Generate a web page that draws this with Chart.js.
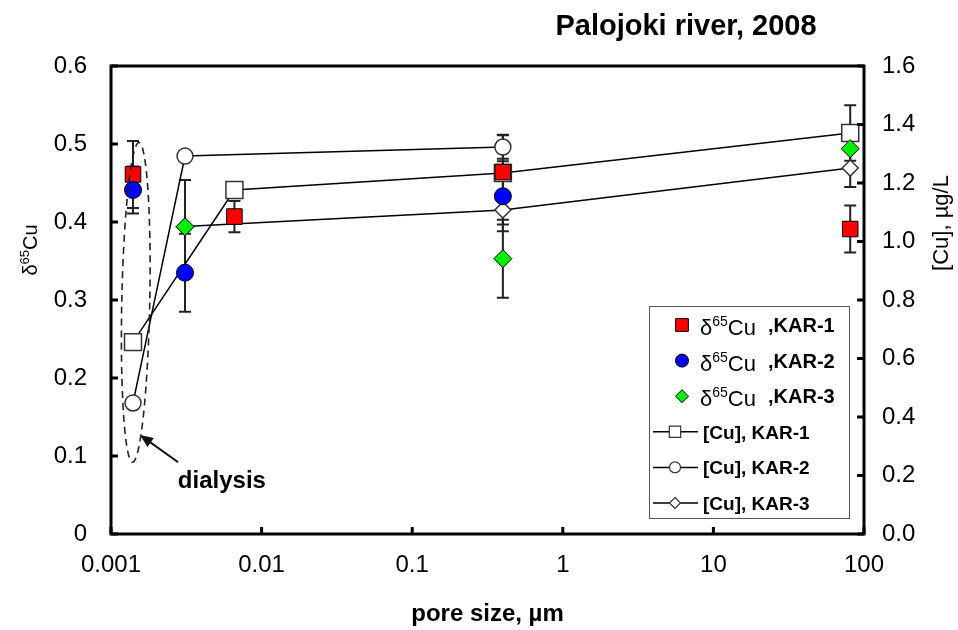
<!DOCTYPE html>
<html><head><meta charset="utf-8">
<script src="https://cdn.jsdelivr.net/npm/chart.js@4.4.1/dist/chart.umd.min.js"></script>
<style>html,body{margin:0;padding:0;background:#fff;overflow:hidden}canvas{display:block}</style>
</head><body>
<canvas id="c" width="958" height="630" style="width:958px;height:630px"></canvas>
<script>
const FONT = '"Liberation Sans", Arial, sans-serif';

// ---- tick labels ----
const xTicks = [0.001, 0.01, 0.1, 1, 10, 100];
const xTickLabels = ['0.001', '0.01', '0.1', '1', '10', '100'];
const yLeftTicks = [0, 0.1, 0.2, 0.3, 0.4, 0.5, 0.6];
const yLeftTickLabels = ['0', '0.1', '0.2', '0.3', '0.4', '0.5', '0.6'];
const yRightTicks = [0, 0.2, 0.4, 0.6, 0.8, 1.0, 1.2, 1.4, 1.6];
const yRightTickLabels = ['0.0', '0.2', '0.4', '0.6', '0.8', '1.0', '1.2', '1.4', '1.6'];

// ---- delta65Cu (left axis), with error bars ----
const d65Kar1X = [0.0014, 0.0066, 0.40, 81];
const d65Kar1Y = [0.461, 0.407, 0.464, 0.391];
const d65Kar1Err = [0.043, 0.02, 0.048, 0.03];

const d65Kar2X = [0.0014, 0.0031, 0.40];
const d65Kar2Y = [0.441, 0.335, 0.433];
const d65Kar2Err = [0.03, 0.05, 0.045];

const d65Kar3X = [0.0031, 0.40, 81];
const d65Kar3Y = [0.394, 0.353, 0.494];
const d65Kar3Err = [0.06, 0.05, 0];

// ---- [Cu] (right axis) ----
const cuKar1X = [0.0014, 0.0066, 0.40, 81];
const cuKar1Y = [0.656, 1.176, 1.234, 1.371];
const cuKar1Err = [0, 0, 0, 0.095];

const cuKar2X = [0.0014, 0.0031, 0.40];
const cuKar2Y = [0.448, 1.292, 1.323];
const cuKar2Err = [0, 0, 0.04];

const cuKar3X = [0.0031, 0.40, 81];
const cuKar3Y = [1.051, 1.108, 1.251];
const cuKar3Err = [0, 0.05, 0.065];

// ---- annotation (data coordinates) ----
const dialysisEllipse = { x: 0.00146, yCenter: 0.297, yHalf: 0.205 };
const dialysisArrow = { fromX: 0.00279, fromY: 0.092, toX: 0.00156, toY: 0.127 };
const dialysisText = { x: 0.00545, y: 0.068, text: 'dialysis' };

const pts = (xs, ys) => xs.map((x, i) => ({ x: x, y: ys[i] }));

const datasets = [
  { label: 'δ65Cu ,KAR-3', data: pts(d65Kar3X, d65Kar3Y), errors: d65Kar3Err, yAxisID: 'y',
    showLine: false, pointStyle: 'rectRot', pointRadius: 9, pointBackgroundColor: '#00ee00',
    pointBorderColor: '#000', pointBorderWidth: 1 },
  { label: 'δ65Cu ,KAR-2', data: pts(d65Kar2X, d65Kar2Y), errors: d65Kar2Err, yAxisID: 'y',
    showLine: false, pointStyle: 'circle', pointRadius: 8.5, pointBackgroundColor: '#0000ff',
    pointBorderColor: '#000', pointBorderWidth: 1 },
  { label: 'δ65Cu ,KAR-1', data: pts(d65Kar1X, d65Kar1Y), errors: d65Kar1Err, yAxisID: 'y',
    showLine: false, pointStyle: 'rect', pointRadius: 11, pointBackgroundColor: '#ff0000',
    pointBorderColor: '#000', pointBorderWidth: 1 },
  { label: '[Cu], KAR-1', data: pts(cuKar1X, cuKar1Y), errors: cuKar1Err, yAxisID: 'y1',
    showLine: true, borderColor: '#000', borderWidth: 1.5, pointStyle: 'rect', pointRadius: 12,
    pointBackgroundColor: '#fff', pointBorderColor: '#333', pointBorderWidth: 1.5 },
  { label: '[Cu], KAR-2', data: pts(cuKar2X, cuKar2Y), errors: cuKar2Err, yAxisID: 'y1',
    showLine: true, borderColor: '#000', borderWidth: 1.5, pointStyle: 'circle', pointRadius: 8,
    pointBackgroundColor: '#fff', pointBorderColor: '#333', pointBorderWidth: 1.5 },
  { label: '[Cu], KAR-3', data: pts(cuKar3X, cuKar3Y), errors: cuKar3Err, yAxisID: 'y1',
    showLine: true, borderColor: '#000', borderWidth: 1.5, pointStyle: 'rectRot', pointRadius: 8,
    pointBackgroundColor: '#fff', pointBorderColor: '#333', pointBorderWidth: 1.5 }
];
datasets.forEach(d => { d.clip = false; d.tension = 0; d.fill = false; });

// legend order: datasets index
const legendOrder = [2, 1, 0, 3, 4, 5];

function drawMarker(ctx, style, x, y, r, fill, stroke, lw) {
  ctx.save();
  ctx.fillStyle = fill; ctx.strokeStyle = stroke; ctx.lineWidth = lw;
  ctx.beginPath();
  if (style === 'rect') { const s = r * Math.SQRT1_2; ctx.rect(x - s, y - s, 2 * s, 2 * s); }
  else if (style === 'rectRot') { ctx.moveTo(x, y - r); ctx.lineTo(x + r, y); ctx.lineTo(x, y + r); ctx.lineTo(x - r, y); ctx.closePath(); }
  else { ctx.arc(x, y, r, 0, Math.PI * 2); }
  ctx.fill(); ctx.stroke();
  ctx.restore();
}

function partsWidth(ctx, parts) {
  let w = 0;
  parts.forEach(p => { ctx.font = p.font; w += ctx.measureText(p.t).width; });
  return w;
}
function drawParts(ctx, parts, x, y) {
  let cx = x;
  parts.forEach(p => {
    ctx.font = p.font;
    ctx.fillText(p.t, cx, y - (p.dy || 0));
    cx += ctx.measureText(p.t).width;
  });
  return cx;
}

const deco = {
  id: 'deco',
  beforeDatasetsDraw(chart) {
    const ctx = chart.ctx, xs = chart.scales.x;
    chart.data.datasets.forEach(ds => {
      if (!ds.errors) return;
      const ys = chart.scales[ds.yAxisID];
      ctx.save(); ctx.strokeStyle = '#222'; ctx.lineWidth = 2;
      ds.data.forEach((p, j) => {
        const e = ds.errors[j]; if (!e) return;
        const px = xs.getPixelForValue(p.x);
        const y1 = ys.getPixelForValue(p.y + e), y2 = ys.getPixelForValue(p.y - e);
        ctx.beginPath();
        ctx.moveTo(px, y1); ctx.lineTo(px, y2);
        ctx.moveTo(px - 6, y1); ctx.lineTo(px + 6, y1);
        ctx.moveTo(px - 6, y2); ctx.lineTo(px + 6, y2);
        ctx.stroke();
      });
      ctx.restore();
    });
  },
  afterDraw(chart) {
    const ctx = chart.ctx, a = chart.chartArea;
    const xs = chart.scales.x, yl = chart.scales.y, yr = chart.scales.y1;
    ctx.save();
    // frame
    ctx.strokeStyle = '#000'; ctx.lineWidth = 3;
    ctx.strokeRect(a.left, a.top, a.right - a.left, a.bottom - a.top);
    // inward ticks
    ctx.beginPath();
    yLeftTicks.forEach(v => { const p = yl.getPixelForValue(v); ctx.moveTo(a.left, p); ctx.lineTo(a.left + 7, p); });
    yRightTicks.forEach(v => { const p = yr.getPixelForValue(v); ctx.moveTo(a.right, p); ctx.lineTo(a.right - 7, p); });
    xTicks.forEach(v => { const p = xs.getPixelForValue(v); ctx.moveTo(p, a.bottom); ctx.lineTo(p, a.bottom - 7); });
    ctx.stroke();

    ctx.fillStyle = '#000';
    ctx.textBaseline = 'alphabetic';
    // chart title
    ctx.font = 'bold 29px ' + FONT; ctx.textAlign = 'center';
    ctx.fillText('Palojoki river, 2008', 686, 35);
    // x title
    ctx.font = 'bold 24px ' + FONT;
    ctx.fillText('pore size, µm', (a.left + a.right) / 2, 621);
    // left y title
    ctx.textAlign = 'left';
    const lt = [{ t: 'δ', font: '20px ' + FONT }, { t: '65', font: '13px ' + FONT, dy: 8 }, { t: 'Cu', font: '20px ' + FONT }];
    ctx.save(); ctx.translate(37, 250); ctx.rotate(-Math.PI / 2);
    drawParts(ctx, lt, -partsWidth(ctx, lt) / 2, 0); ctx.restore();
    // right y title
    ctx.save(); ctx.translate(948, 223); ctx.rotate(-Math.PI / 2);
    ctx.font = '22px ' + FONT; ctx.textAlign = 'center';
    ctx.fillText('[Cu], µg/L', 0, 0); ctx.restore();

    // dialysis annotation
    const ex = xs.getPixelForValue(dialysisEllipse.x);
    const ey = yl.getPixelForValue(dialysisEllipse.yCenter);
    const ery = ey - yl.getPixelForValue(dialysisEllipse.yCenter + dialysisEllipse.yHalf);
    ctx.save();
    ctx.setLineDash([7, 5]); ctx.lineWidth = 1.6; ctx.strokeStyle = '#222';
    ctx.beginPath(); ctx.ellipse(ex, ey, 14, ery, 0.02, 0, Math.PI * 2); ctx.stroke();
    ctx.restore();
    const ax0 = xs.getPixelForValue(dialysisArrow.fromX), ay0 = yl.getPixelForValue(dialysisArrow.fromY);
    const ax1 = xs.getPixelForValue(dialysisArrow.toX), ay1 = yl.getPixelForValue(dialysisArrow.toY);
    const ang = Math.atan2(ay1 - ay0, ax1 - ax0);
    ctx.save(); ctx.strokeStyle = '#111'; ctx.fillStyle = '#111'; ctx.lineWidth = 2;
    ctx.beginPath(); ctx.moveTo(ax0, ay0);
    ctx.lineTo(ax1 - 8 * Math.cos(ang), ay1 - 8 * Math.sin(ang)); ctx.stroke();
    ctx.beginPath(); ctx.moveTo(ax1, ay1);
    ctx.lineTo(ax1 - 13 * Math.cos(ang) + 5.5 * Math.sin(ang), ay1 - 13 * Math.sin(ang) - 5.5 * Math.cos(ang));
    ctx.lineTo(ax1 - 13 * Math.cos(ang) - 5.5 * Math.sin(ang), ay1 - 13 * Math.sin(ang) + 5.5 * Math.cos(ang));
    ctx.closePath(); ctx.fill(); ctx.restore();
    ctx.font = 'bold 24px ' + FONT; ctx.textAlign = 'center'; ctx.textBaseline = 'middle';
    ctx.fillText(dialysisText.text, xs.getPixelForValue(dialysisText.x), yl.getPixelForValue(dialysisText.y));

    // legend
    const bw = 200, bh = 212;
    const bx = a.right - 15 - bw, by = a.bottom - 16 - bh;
    ctx.fillStyle = '#fff'; ctx.fillRect(bx, by, bw, bh);
    ctx.strokeStyle = '#555'; ctx.lineWidth = 1; ctx.strokeRect(bx + 0.5, by + 0.5, bw, bh);
    ctx.textAlign = 'left'; ctx.textBaseline = 'alphabetic'; ctx.fillStyle = '#000';
    legendOrder.forEach((di, k) => {
      const ds = chart.data.datasets[di];
      const ry = by + 19 + k * 35.6;
      if (!ds.showLine) {
        drawMarker(ctx, ds.pointStyle, bx + 33, ry, ds.pointStyle === 'rect' ? 9 : 6.5, ds.pointBackgroundColor, '#000', 1);
        const lbl = ds.label.split(' ');
        drawParts(ctx, [{ t: 'δ', font: '22px ' + FONT }, { t: '65', font: '14px ' + FONT, dy: 9 }, { t: 'Cu', font: '22px ' + FONT }], bx + 51, ry + 10);
        ctx.font = 'bold 20px ' + FONT;
        ctx.fillText(lbl[1], bx + 119, ry + 7);
      } else {
        ctx.save(); ctx.strokeStyle = '#000'; ctx.lineWidth = 1.5;
        ctx.beginPath(); ctx.moveTo(bx + 4, ry); ctx.lineTo(bx + 49, ry); ctx.stroke(); ctx.restore();
        drawMarker(ctx, ds.pointStyle, bx + 26, ry, ds.pointStyle === 'rect' ? 8 : 5.5, '#fff', '#333', 1.2);
        ctx.font = 'bold 19px ' + FONT;
        ctx.fillText(ds.label, bx + 54, ry + 7);
      }
    });
    ctx.restore();
  }
};

const tickFont = { family: FONT, size: 24 };
new Chart(document.getElementById('c'), {
  type: 'scatter',
  data: { datasets: datasets },
  options: {
    responsive: false, animation: false, devicePixelRatio: 1,
    layout: { padding: { top: 66, left: 0, right: 0, bottom: 0 } },
    plugins: { legend: { display: false }, tooltip: { enabled: false }, title: { display: false } },
    scales: {
      x: {
        type: 'logarithmic', position: 'bottom', min: 0.001, max: 100,
        afterBuildTicks: s => { s.ticks = xTicks.map(v => ({ value: v })); },
        afterFit: s => { s.height = 96; },
        grid: { display: false, drawTicks: false }, border: { display: false },
        ticks: { font: tickFont, color: '#000', padding: 17, maxRotation: 0, autoSkip: false,
          callback: (v, i) => xTickLabels[i] }
      },
      y: {
        type: 'linear', position: 'left', min: 0, max: 0.6,
        afterBuildTicks: s => { s.ticks = yLeftTicks.map(v => ({ value: v })); },
        afterFit: s => { s.width = 111; },
        grid: { display: false, drawTicks: false }, border: { display: false },
        ticks: { font: tickFont, color: '#000', padding: 24, callback: (v, i) => yLeftTickLabels[i] }
      },
      y1: {
        type: 'linear', position: 'right', min: 0, max: 1.6,
        afterBuildTicks: s => { s.ticks = yRightTicks.map(v => ({ value: v })); },
        afterFit: s => { s.width = 94; },
        grid: { display: false, drawTicks: false }, border: { display: false },
        ticks: { font: tickFont, color: '#000', padding: 18, callback: (v, i) => yRightTickLabels[i] }
      }
    }
  },
  plugins: [deco]
});
</script>
</body></html>
